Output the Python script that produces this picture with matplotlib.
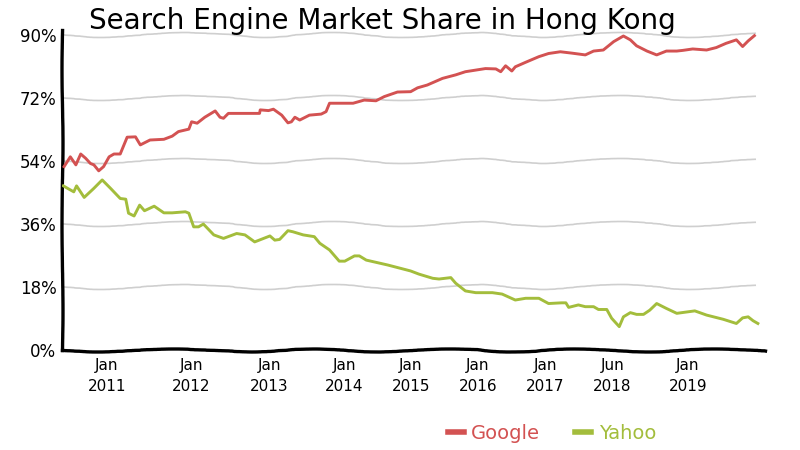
import matplotlib
matplotlib.use("Agg")
import matplotlib.pyplot as plt

# дані (рік як десяткове число, частка у %)
google_years = [2010.01, 2010.10, 2010.18, 2010.25, 2010.32, 2010.39, 2010.44, 2010.51, 2010.58,
                2010.66, 2010.73, 2010.82, 2010.92, 2011.04, 2011.11, 2011.25, 2011.45, 2011.57,
                2011.66, 2011.81, 2011.85, 2011.93, 2012.04, 2012.19, 2012.26, 2012.31, 2012.38,
                2012.50, 2012.83, 2012.84, 2012.96, 2013.03, 2013.15, 2013.24, 2013.29, 2013.34,
                2013.41, 2013.55, 2013.72, 2013.79, 2013.84, 2013.96, 2014.18, 2014.34, 2014.51,
                2014.63, 2014.82, 2015.01, 2015.11, 2015.25, 2015.47, 2015.66, 2015.80, 2016.09,
                2016.24, 2016.31, 2016.38, 2016.47, 2016.52, 2016.67, 2016.86, 2017.00, 2017.17,
                2017.34, 2017.53, 2017.65, 2017.79, 2017.94, 2018.08, 2018.18, 2018.27, 2018.42,
                2018.56, 2018.70, 2018.85, 2018.94, 2019.08, 2019.28, 2019.42, 2019.56, 2019.71,
                2019.80, 2019.88, 2019.97]
google_share = [52.4, 55.2, 52.9, 56.0, 54.8, 53.3, 52.9, 51.2, 52.4,
                55.2, 56.0, 56.0, 60.8, 60.9, 58.6, 60.0, 60.2, 61.1,
                62.4, 63.1, 65.2, 64.8, 66.5, 68.3, 66.5, 66.2, 67.6,
                67.6, 67.6, 68.6, 68.4, 68.8, 67.1, 64.9, 65.2, 66.5,
                65.7, 67.1, 67.4, 68.1, 70.5, 70.5, 70.5, 71.4, 71.2,
                72.4, 73.7, 73.8, 74.9, 75.7, 77.6, 78.6, 79.5, 80.4,
                80.3, 79.5, 81.2, 79.7, 80.9, 82.2, 83.8, 84.7, 85.2,
                84.8, 84.3, 85.4, 85.7, 88.1, 89.7, 88.6, 86.9, 85.4,
                84.3, 85.4, 85.4, 85.6, 86.0, 85.7, 86.4, 87.6, 88.6,
                86.7, 88.3, 89.8]

yahoo_years = [2010.00, 2010.06, 2010.15, 2010.19, 2010.30, 2010.44, 2010.56, 2010.68, 2010.82,
               2010.90, 2010.94, 2011.02, 2011.10, 2011.17, 2011.31, 2011.45, 2011.57, 2011.76,
               2011.81, 2011.88, 2011.95, 2012.02, 2012.17, 2012.31, 2012.50, 2012.62, 2012.76,
               2012.98, 2013.05, 2013.12, 2013.24, 2013.31, 2013.46, 2013.62, 2013.70, 2013.84,
               2013.98, 2014.06, 2014.20, 2014.27, 2014.37, 2014.68, 2015.01, 2015.13, 2015.33,
               2015.42, 2015.59, 2015.66, 2015.80, 2015.95, 2016.19, 2016.33, 2016.52, 2016.67,
               2016.86, 2017.00, 2017.19, 2017.25, 2017.29, 2017.43, 2017.53, 2017.65, 2017.72,
               2017.84, 2017.91, 2018.02, 2018.08, 2018.18, 2018.27, 2018.37, 2018.46, 2018.56,
               2018.70, 2018.85, 2019.11, 2019.28, 2019.52, 2019.71, 2019.80, 2019.88, 2019.95,
               2020.02]
yahoo_share = [46.9, 46.2, 45.2, 46.9, 43.6, 46.2, 48.6, 46.2, 43.3,
               43.1, 39.1, 38.3, 41.4, 39.8, 41.1, 39.2, 39.2, 39.5,
               39.1, 35.2, 35.2, 36.0, 32.9, 31.9, 33.3, 32.9, 30.9,
               32.6, 31.4, 31.6, 34.1, 33.8, 32.9, 32.4, 30.5, 28.6,
               25.4, 25.4, 26.9, 26.9, 25.7, 24.3, 22.6, 21.7, 20.5,
               20.3, 20.7, 19.1, 16.9, 16.4, 16.4, 16.0, 14.3, 14.8,
               14.8, 13.3, 13.5, 13.5, 12.2, 12.9, 12.4, 12.4, 11.6,
               11.6, 9.1, 6.7, 9.5, 10.7, 10.2, 10.2, 11.4, 13.3,
               11.9, 10.5, 11.2, 10.0, 8.8, 7.6, 9.2, 9.5, 8.4,
               7.6]

y_ticks = [0, 18, 36, 54, 72, 90]
y_labels = ["0%", "18%", "36%", "54%", "72%", "90%"]
x_ticks = [2010.63, 2011.85, 2012.97, 2014.05, 2015.01, 2015.98, 2016.95, 2017.92, 2019.01]
x_labels = ["Jan\n2011", "Jan\n2012", "Jan\n2013", "Jan\n2014", "Jan\n2015",
            "Jan\n2016", "Jan\n2017", "Jun\n2018", "Jan\n2019"]

GOOGLE_COLOR = "#d35252"
YAHOO_COLOR = "#a3bd3c"


def main():
    fig = plt.figure(figsize=(8, 4.5), dpi=100)
    ax = fig.add_axes([0.0775, 0.222, 0.8785, 0.712])

    # сітка — хвиляста, як намальована від руки
    grid = ax.hlines(y_ticks[1:], 2010.0, 2020.0, colors="#cfcfcf", linewidth=1.2, zorder=1)
    grid.set_sketch_params(scale=2.5, length=260, randomness=6)

    ax.plot(google_years, google_share, color=GOOGLE_COLOR, linewidth=2.1, label="Google", zorder=3)
    ax.plot(yahoo_years, yahoo_share, color=YAHOO_COLOR, linewidth=2.1, label="Yahoo", zorder=3)

    ax.set_xlim(2009.98, 2020.12)
    ax.set_ylim(0, 91.5)

    for side in ["top", "right"]:
        ax.spines[side].set_visible(False)
    for side in ["left", "bottom"]:
        ax.spines[side].set_linewidth(2.4)
        ax.spines[side].set_color("black")
    ax.spines["bottom"].set_sketch_params(scale=1.5, length=220, randomness=5)
    ax.spines["left"].set_sketch_params(scale=0.5, length=200, randomness=3)

    ax.set_yticks(y_ticks)
    ax.set_yticklabels(y_labels, fontsize=12)
    ax.set_xticks(x_ticks)
    ax.set_xticklabels(x_labels, fontsize=11, linespacing=1.5)
    ax.tick_params(axis="both", length=0)
    ax.tick_params(axis="y", pad=4)
    ax.tick_params(axis="x", pad=6)

    fig.suptitle("Search Engine Market Share in Hong Kong", x=0.478, y=0.985,
                 fontsize=20)

    leg = fig.legend(loc="center", bbox_to_anchor=(0.69, 0.037), ncol=2, frameon=False,
                     fontsize=14, handlelength=0.8, handletextpad=0.4, columnspacing=1.8)
    for text, color in zip(leg.get_texts(), [GOOGLE_COLOR, YAHOO_COLOR]):
        text.set_color(color)
    for line in leg.get_lines():
        line.set_linewidth(4)

    fig.savefig("out.png", dpi=100)


if __name__ == "__main__":
    main()
